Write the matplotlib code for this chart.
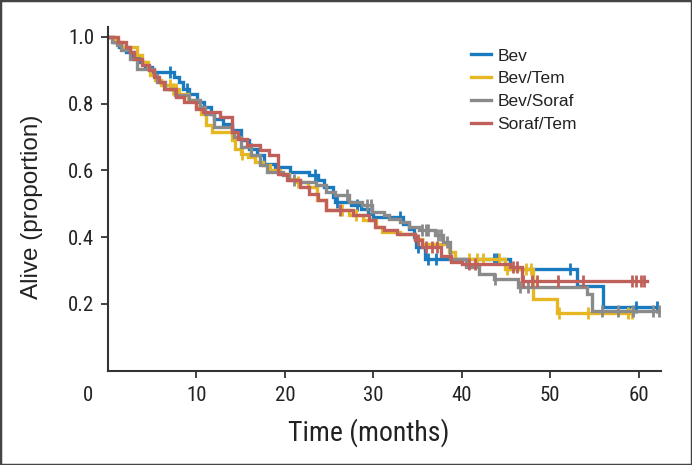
import numpy as np
import matplotlib
matplotlib.use("Agg")
import matplotlib.pyplot as plt
import matplotlib.patches as patches
from matplotlib.transforms import ScaledTranslation

# Kaplan-Meier steps: (time of drop, survival after drop)
bev_t = [0.6, 1.3, 2.0, 2.8, 3.5, 4.2, 5.0, 7.5, 8.0, 8.5, 9.2, 10.1, 10.9, 11.6, 12.0, 13.0, 14.0, 15.0,
         16.0, 16.8, 17.6, 18.9, 20.6, 22.7, 23.8, 24.4, 25.4, 25.7, 27.5, 28.6, 29.4, 30.0, 33.3, 34.0,
         34.6, 34.8, 35.8, 45.4, 53.0, 56.0]
bev_s = [0.985, 0.97, 0.955, 0.94, 0.925, 0.91, 0.895, 0.88, 0.865, 0.845, 0.83, 0.805, 0.79, 0.77, 0.755,
         0.74, 0.72, 0.69, 0.665, 0.645, 0.62, 0.61, 0.595, 0.585, 0.57, 0.55, 0.52, 0.505, 0.495, 0.485,
         0.47, 0.46, 0.44, 0.425, 0.40, 0.37, 0.335, 0.305, 0.253, 0.19]
bev_cens = [7.0, 8.9, 16.2, 23.4, 25.9, 28.1, 33.0, 35.0, 36.2, 37.1, 43.6, 44.0, 52.2, 59.7, 62.1]
bev_end = 62.2

tem_t = [0.8, 1.6, 3.3, 3.8, 4.5, 4.8, 5.3, 6.0, 7.3, 8.0, 9.0, 10.0, 10.5, 11.1, 11.8, 14.0, 14.4, 15.0,
         15.8, 16.6, 17.5, 18.3, 19.5, 20.5, 21.3, 22.6, 23.6, 24.7, 27.3, 28.8, 30.3, 31.0, 33.0, 34.7,
         35.5, 38.5, 39.2, 44.9, 48.0, 50.8]
tem_s = [0.985, 0.97, 0.945, 0.925, 0.905, 0.885, 0.87, 0.855, 0.845, 0.83, 0.81, 0.79, 0.77, 0.735, 0.715,
         0.69, 0.665, 0.65, 0.64, 0.625, 0.615, 0.60, 0.59, 0.575, 0.565, 0.55, 0.51, 0.48, 0.465, 0.45,
         0.43, 0.415, 0.41, 0.395, 0.38, 0.355, 0.335, 0.305, 0.215, 0.172]
tem_cens = [7.0, 7.4, 7.7, 15.2, 21.5, 26.4, 28.0, 40.8, 41.7, 42.4, 44.2, 45.1, 47.3, 47.8, 51.0, 54.3,
            58.8, 59.2]
tem_end = 59.3

sor_t = [0.5, 1.0, 1.5, 2.5, 3.3, 5.2, 5.6, 6.4, 7.6, 9.2, 10.4, 11.0, 12.0, 14.0, 14.3, 15.0, 16.2, 17.2,
         18.0, 19.8, 20.5, 21.7, 23.5, 24.7, 25.7, 27.2, 28.7, 29.9, 31.2, 31.8, 33.0, 34.0, 35.2, 37.0,
         37.9, 38.7, 40.5, 41.9, 43.6, 46.4, 54.2, 54.7]
sor_s = [0.985, 0.975, 0.96, 0.935, 0.905, 0.885, 0.865, 0.845, 0.825, 0.81, 0.79, 0.77, 0.73, 0.715, 0.70,
         0.67, 0.645, 0.615, 0.595, 0.585, 0.57, 0.565, 0.555, 0.535, 0.525, 0.505, 0.495, 0.475, 0.465,
         0.455, 0.445, 0.43, 0.42, 0.405, 0.385, 0.335, 0.31, 0.29, 0.275, 0.25, 0.23, 0.18]
sor_cens = [21.0, 27.0, 29.3, 29.7, 35.5, 35.9, 36.2, 37.3, 37.7, 38.3, 43.7, 46.6, 47.5, 55.8, 57.7,
            59.4, 61.6, 62.3]
sor_end = 62.5

st_t = [1.1, 2.0, 2.5, 3.0, 3.8, 4.6, 5.2, 5.8, 6.3, 7.7, 8.6, 10.0, 10.8, 12.7, 14.0, 14.7, 15.7, 17.2,
        18.2, 19.2, 20.2, 21.7, 22.7, 23.7, 24.7, 27.7, 29.5, 30.2, 31.2, 32.7, 34.7, 35.5, 37.7, 38.8,
        40.0, 45.5, 46.8]
st_s = [0.985, 0.97, 0.955, 0.935, 0.915, 0.90, 0.88, 0.865, 0.845, 0.82, 0.805, 0.785, 0.775, 0.76, 0.715,
        0.695, 0.675, 0.66, 0.645, 0.59, 0.57, 0.55, 0.53, 0.51, 0.48, 0.465, 0.45, 0.43, 0.42, 0.41, 0.39,
        0.37, 0.345, 0.325, 0.32, 0.31, 0.27]
st_cens = [26.2, 35.0, 36.0, 36.6, 37.2, 40.8, 41.5, 45.8, 46.2, 46.9, 47.9, 48.5, 50.9, 53.7, 59.2, 59.7,
           60.2, 60.6]
st_end = 60.9

labels = ["Bev", "Bev/Tem", "Bev/Soraf", "Soraf/Tem"]
colors = ["#1a7abf", "#e6b722", "#8a8a8a", "#c0605a"]

series = [(bev_t, bev_s, bev_cens, bev_end),
          (tem_t, tem_s, tem_cens, tem_end),
          (sor_t, sor_s, sor_cens, sor_end),
          (st_t, st_s, st_cens, st_end)]

narrow = ["Roboto Condensed", "DejaVu Sans"]
regular = ["Liberation Sans", "DejaVu Sans"]

fig = plt.figure(figsize=(6.92, 4.65), dpi=100)
ax = fig.add_axes([0.156, 0.203, 0.799, 0.739])

for (t, s, cens, end), lab, c in zip(series, labels, colors):
    tt = np.r_[0, t, end]
    ss = np.r_[1.0, s, s[-1]]
    ax.plot(tt, ss, drawstyle="steps-post", color=c, lw=2.4, label=lab, solid_joinstyle="miter")
    # survival at each censor time, taken from the step curve
    idx = np.searchsorted(tt, cens, side="right") - 1
    ax.plot(cens, ss[idx], ls="none", marker="|", ms=8, mew=2, color=c)

ax.set_xlim(0, 62.5)
ax.set_ylim(0, 1.03)
ax.set_xticks([0, 10, 20, 30, 40, 50, 60])
ax.set_yticks([0.2, 0.4, 0.6, 0.8, 1.0])
ax.set_yticklabels(["0.2", "0.4", "0.6", "0.8", "1.0"])

for side in ["top", "right"]:
    ax.spines[side].set_visible(False)
for side in ["left", "bottom"]:
    ax.spines[side].set_linewidth(1.5)
    ax.spines[side].set_color("#333333")
ax.tick_params(axis="both", direction="out", length=5, width=1.3, color="#333333",
               labelsize=15, labelcolor="#222222")
ax.tick_params(axis="x", pad=6)
ax.tick_params(axis="y", pad=5)
for lbl in ax.get_xticklabels() + ax.get_yticklabels():
    lbl.set_family(narrow)

# the "0" sits left of the corner, with no tick mark
ax.xaxis.get_major_ticks()[0].tick1line.set_visible(False)
zero = ax.get_xticklabels()[0]
zero.set_transform(zero.get_transform() + ScaledTranslation(-0.2, 0, fig.dpi_scale_trans))

ax.set_xlabel("Time (months)", fontsize=20, family=narrow, color="#222222")
ax.set_ylabel("Alive (proportion)", fontsize=17.5, family=regular, color="#222222")
ax.xaxis.set_label_coords(0.471, -0.14)
ax.yaxis.set_label_coords(-0.118, 0.476)

leg = ax.legend(loc="upper left", bbox_to_anchor=(0.681, 0.896), bbox_transform=fig.transFigure,
                frameon=False, prop={"family": regular, "size": 12.5}, handlelength=1.15,
                handletextpad=0.35, labelspacing=0.45, borderpad=0, borderaxespad=0)
for txt in leg.get_texts():
    txt.set_color("#222222")

fig.patches.append(patches.Rectangle((0, 0), 1, 1, transform=fig.transFigure, fill=False,
                                     lw=2.5, ec="#444444"))

fig.savefig("out.png", dpi=100)
